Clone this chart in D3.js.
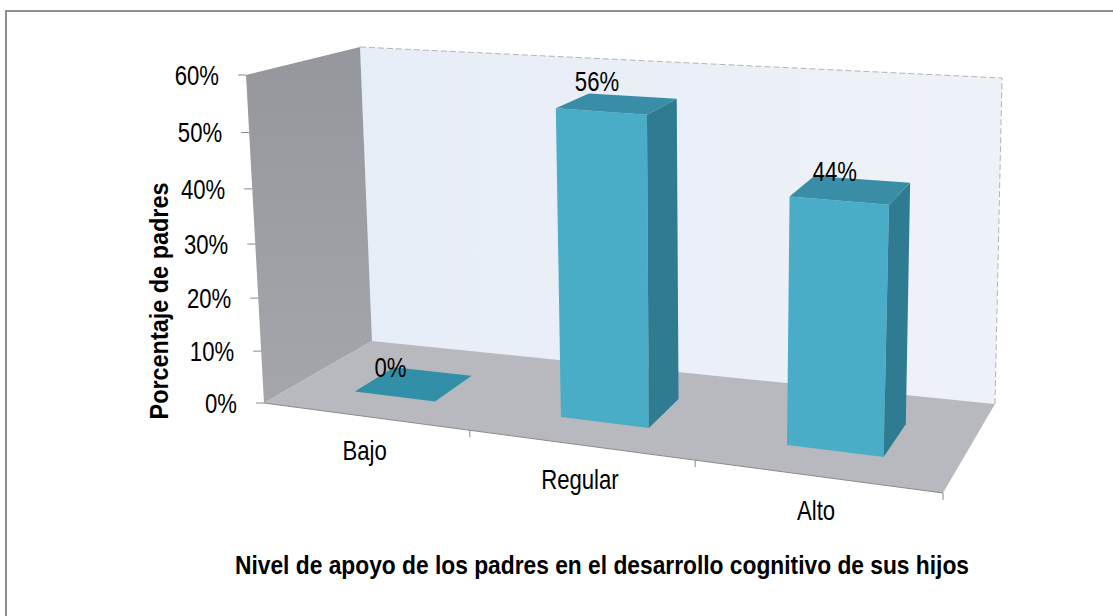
<!DOCTYPE html>
<html>
<head>
<meta charset="utf-8">
<script src="https://cdn.jsdelivr.net/npm/d3@7"></script>
<style>
  body { margin: 0; background: #fff; }
  text { font-family: "Liberation Sans", Arial, sans-serif; fill: #000; }
</style>
</head>
<body>
<svg id="chart" width="1113" height="616"></svg>
<script>
var categories = ['Bajo', 'Regular', 'Alto'];
var values = [0, 0.56, 0.44];
var yTicks = [0, 0.1, 0.2, 0.3, 0.4, 0.5, 0.6];
var yTitle = 'Porcentaje de padres';
var xTitle = 'Nivel de apoyo de los padres en el desarrollo cognitivo de sus hijos';

// where the corners of the 3d plot box land on the page (0 = floor, 1 = top)
var box = {
  fl0: [264, 403], fr0: [943, 493], br0: [995, 404], bl0: [372, 341],
  fl1: [246, 75], fr1: [955, 127], br1: [1002, 78], bl1: [360, 47]
};
var barFront = 0.3, barBack = 0.68;

function lerp(a, b, t) { return [a[0] + (b[0] - a[0]) * t, a[1] + (b[1] - a[1]) * t]; }
function plane(p0, p1, p2, p3, u, z) { return lerp(lerp(p0, p1, u), lerp(p3, p2, u), z); }
// a little foreshortening, the right side is nearer the eye
function warp(t, k) { return t * (1 + k) / (1 + k * t); }
function project(u, z, w) {
  u = warp(u, -0.13);
  w = warp(w, -0.06);
  var b = plane(box.fl0, box.fr0, box.br0, box.bl0, u, z);
  var t = plane(box.fl1, box.fr1, box.br1, box.bl1, u, z);
  return lerp(b, t, w);
}
function poly(pts) { return 'M' + pts.map(function(p) { return project(p[0], p[1], p[2]).join(','); }).join('L') + 'Z'; }

var x = d3.scaleBand().domain(categories).range([0, 1]).paddingInner(0.6).paddingOuter(0.3);
var y = d3.scaleLinear().domain([0, 0.6]).range([0, 1]);
var pct = d3.format('.0%');

var svg = d3.select('#chart');
var defs = svg.append('defs');
var lg = defs.append('linearGradient').attr('id', 'leftWall').attr('x1', 0).attr('y1', 0).attr('x2', 0).attr('y2', 1);
lg.append('stop').attr('offset', 0).attr('stop-color', '#95979d');
lg.append('stop').attr('offset', 1).attr('stop-color', '#a4a6ac');
var bg = defs.append('linearGradient').attr('id', 'backWall').attr('x1', 0).attr('y1', 0).attr('x2', 1).attr('y2', 0);
bg.append('stop').attr('offset', 0).attr('stop-color', '#e7edf6');
bg.append('stop').attr('offset', 1).attr('stop-color', '#eef2f8');

svg.append('rect').attr('width', 1113).attr('height', 616).attr('fill', '#fff');
svg.append('path').attr('d', 'M6,616V11H1113').attr('fill', 'none').attr('stroke', '#8e8e8e').attr('stroke-width', 2);

// walls and floor
svg.append('path').attr('d', poly([[0, 1, 0], [1, 1, 0], [1, 1, 1], [0, 1, 1]])).attr('fill', 'url(#backWall)');
svg.append('path').attr('d', poly([[0, 0, 0], [0, 1, 0], [0, 1, 1], [0, 0, 1]])).attr('fill', 'url(#leftWall)');
svg.append('path').attr('d', poly([[0, 0, 0], [1, 0, 0], [1, 1, 0], [0, 1, 0]])).attr('fill', '#b7b9be');
svg.append('path').attr('d', 'M' + [project(0, 1, 1), project(1, 1, 1), project(1, 1, 0)].join('L'))
  .attr('fill', 'none').attr('stroke', '#b4b4b4').attr('stroke-dasharray', '6,3');
svg.append('path').attr('d', 'M' + [project(0, 0, 0), project(1, 0, 0)].join('L'))
  .attr('fill', 'none').attr('stroke', '#8a8a8a');

// y axis ticks and labels
var yAxis = svg.append('g');
yTicks.forEach(function(t) {
  var p = project(0, 0, y(t));
  yAxis.append('line').attr('x1', p[0] - 8).attr('x2', p[0]).attr('y1', p[1]).attr('y2', p[1])
    .attr('stroke', '#888');
  yAxis.append('text')
    .attr('transform', 'translate(' + (p[0] - 27) + ',' + p[1] + ') scale(0.82,1)')
    .attr('text-anchor', 'end').attr('dy', '0.36em').attr('font-size', 27)
    .text(pct(t));
});

// category ticks and labels
[1 / 3, 2 / 3, 1].forEach(function(u) {
  var p = project(u, 0, 0);
  svg.append('line').attr('x1', p[0]).attr('x2', p[0]).attr('y1', p[1]).attr('y2', p[1] + 7).attr('stroke', '#888');
});
categories.forEach(function(c) {
  var p = project(x(c) + x.bandwidth() / 2, 0, 0);
  svg.append('text')
    .attr('transform', 'translate(' + p[0] + ',' + (p[1] + 44) + ') scale(0.82,1)')
    .attr('text-anchor', 'middle').attr('font-size', 27)
    .text(c);
});

// bars
var bars = svg.selectAll('.bar').data(categories).enter().append('g').attr('class', 'bar');
bars.each(function(c, i) {
  var g = d3.select(this);
  var u0 = x(c), u1 = x(c) + x.bandwidth(), w = y(values[i]);
  var z0 = barFront, z1 = barBack;
  if (w > 0) {
    g.append('path').attr('d', poly([[u0, z0, 0], [u1, z0, 0], [u1, z0, w], [u0, z0, w]])).attr('fill', '#4aadc7');
    g.append('path').attr('d', poly([[u1, z0, 0], [u1, z1, 0], [u1, z1, w], [u1, z0, w]])).attr('fill', '#2e7b92');
  }
  g.append('path').attr('d', poly([[u0, z0, w], [u1, z0, w], [u1, z1, w], [u0, z1, w]]))
    .attr('fill', w > 0 ? '#3a8da6' : '#3190a7');
  var p = project((u0 + u1) / 2, z0, w);
  g.append('text')
    .attr('transform', 'translate(' + (p[0] - 4) + ',' + (p[1] - 20) + ') scale(0.82,1)')
    .attr('text-anchor', 'middle').attr('font-size', 27)
    .text(pct(values[i]));
});

// axis titles
svg.append('text')
  .attr('transform', 'translate(168,301) rotate(-90)')
  .attr('text-anchor', 'middle').attr('font-size', 25).attr('font-weight', 'bold')
  .attr('textLength', 237).attr('lengthAdjust', 'spacingAndGlyphs')
  .text(yTitle);
svg.append('text')
  .attr('x', 602).attr('y', 574)
  .attr('text-anchor', 'middle').attr('font-size', 25).attr('font-weight', 'bold')
  .attr('textLength', 734).attr('lengthAdjust', 'spacingAndGlyphs')
  .text(xTitle);
</script>
</body>
</html>
